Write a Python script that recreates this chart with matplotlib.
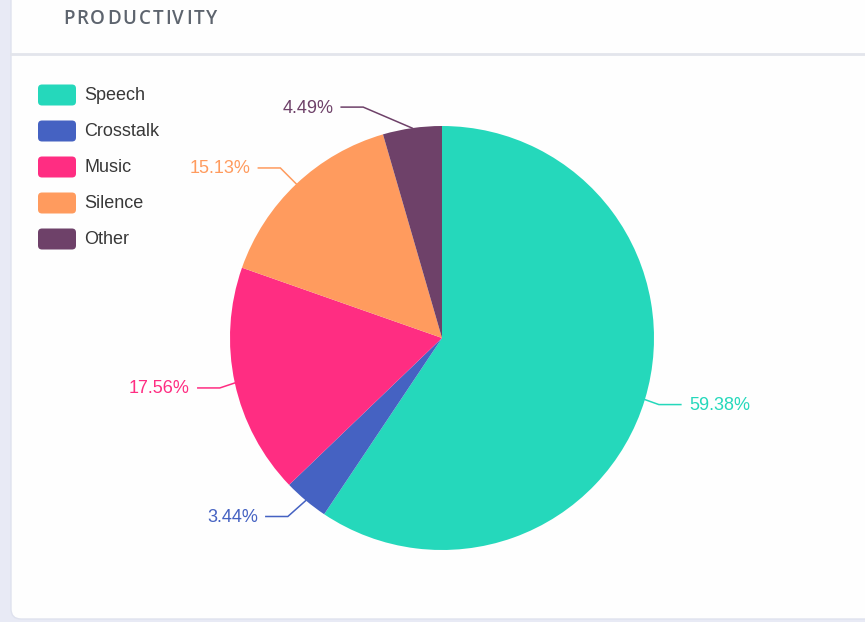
import numpy as np
import matplotlib
matplotlib.use("Agg")
import matplotlib.pyplot as plt
from matplotlib.patches import FancyBboxPatch
from matplotlib.font_manager import FontProperties

# data
categories = ["Speech", "Crosstalk", "Music", "Silence", "Other"]
shares = [59.38, 3.44, 17.56, 15.13, 4.49]
colors = ["#25d8bb", "#4562c2", "#ff2d82", "#ff9b5e", "#6e4169"]
title = "PRODUCTIVITY"

# label leader elbows, offset from the wedge edge (px, screen y down)
elbow_offsets = [(14, 5), (-18, 16), (-15, 5), (-16, -16), (-49, -21)]
leader_h = 22

W, H = 865, 622
fig = plt.figure(figsize=(W / 100, H / 100), dpi=100)
fig.patch.set_facecolor("#e8eaf5")
ax = fig.add_axes([0, 0, 1, 1])
ax.set_xlim(0, W)
ax.set_ylim(0, H)
ax.axis("off")

def Y(py):
    return H - py

# card background
card = FancyBboxPatch((11, Y(619)), 900, 700, boxstyle="round,pad=0,rounding_size=10",
                      fc="#fefefe", ec="#dfe2ee", lw=1.0, zorder=1)
ax.add_patch(card)
ax.plot([11, W], [Y(54), Y(54)], color="#e3e5ec", lw=2, zorder=2)

# title with letter spacing: place each char at width of the prefix + spacing
renderer = fig.canvas.get_renderer()
fp = FontProperties(family="Open Sans", weight="semibold", size=13.5)
spacing = 1.9
for i, ch in enumerate(title):
    pre = renderer.get_text_width_height_descent(title[:i], fp, ismath=False)[0] if i else 0
    ax.text(63 + pre + i * spacing, Y(18.5), ch, fontproperties=fp,
            color="#5d646e", va="center", ha="left", zorder=3)

# pie
cx, cy, r = 442, 338, 212
wedges, _ = ax.pie(shares, colors=colors, startangle=90, counterclock=False,
                   center=(cx, Y(cy)), radius=r, wedgeprops=dict(linewidth=0))
for w in wedges:
    w.set_zorder(3)
ax.set_xlim(0, W)
ax.set_ylim(0, H)
ax.set_aspect("auto")

# outside labels with leader lines
for w, val, col, (dx, dy) in zip(wedges, shares, colors, elbow_offsets):
    mid = np.deg2rad((w.theta1 + w.theta2) / 2)
    ex, ey = cx + r * np.cos(mid), Y(cy) + r * np.sin(mid)
    bx, by = ex + dx, ey - dy
    side = 1 if np.cos(mid) > 0 else -1
    hx = bx + side * leader_h
    ax.plot([ex, bx, hx], [ey, by, by], color=col, lw=1.1, zorder=2,
            solid_joinstyle="miter")
    ax.text(hx + side * 8, by - 1, f"{val:.2f}%", color=col, fontsize=13,
            family="Liberation Sans", ha="left" if side > 0 else "right",
            va="center", zorder=4)

# legend
for i, (name, col) in enumerate(zip(categories, colors)):
    yc = 95 + 36 * i
    box = FancyBboxPatch((38, Y(yc) - 10.5), 38, 21, boxstyle="round,pad=0,rounding_size=4",
                         fc=col, ec="none", zorder=4)
    ax.add_patch(box)
    ax.text(84, Y(yc) - 1, name, fontsize=13, family="Liberation Sans", color="#383838",
            ha="left", va="center", zorder=4)

fig.savefig("out.png", dpi=100, facecolor=fig.get_facecolor())
